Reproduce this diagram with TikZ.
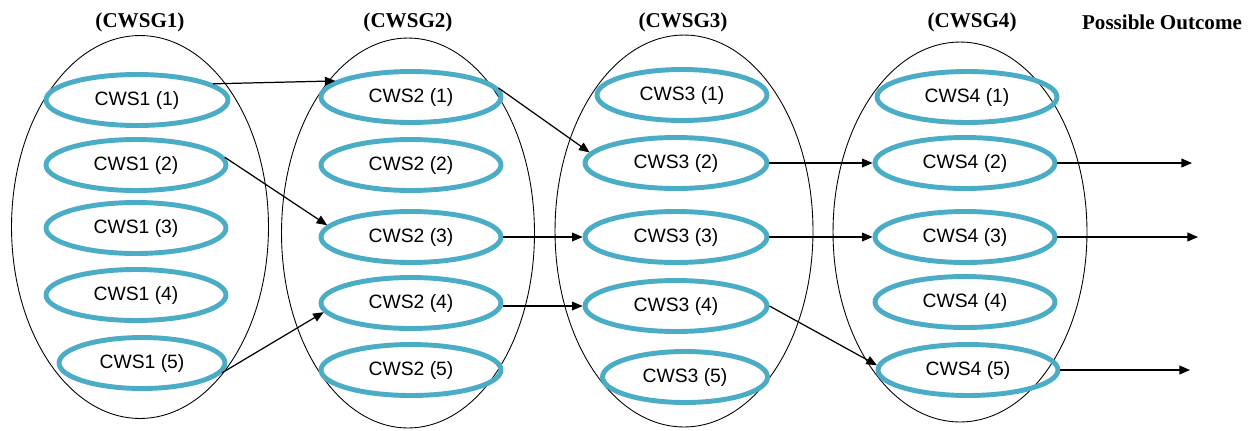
\documentclass[tikz,border=0pt]{standalone}
\usepackage{fontspec}
\setmainfont{Liberation Serif}
\newfontfamily\cwsfont{Liberation Sans}
\usetikzlibrary{shapes.geometric,arrows.meta}
\definecolor{cwsblue}{RGB}{75,172,198}
\tikzset{
	grp/.style={draw=black,line width=0.5pt,ellipse,inner sep=0pt},
	cws/.style={draw=cwsblue,line width=2.8pt,ellipse,inner sep=0pt,minimum height=1.02cm,minimum width=3.6cm,font=\cwsfont\fontsize{11}{13}\selectfont},
	ttl/.style={font=\bfseries\fontsize{12}{14}\selectfont},
	arr/.style={-{Triangle[length=6pt,width=5pt]},line width=0.7pt}
}
\begin{document}
\begin{tikzpicture}[x=0.02cm,y=-0.02cm]
			\useasboundingbox (0,0) rectangle (1253,430);
			\node[grp,minimum width=5.14cm,minimum height=7.66cm] (g1) at (140,227) {};
			\node[grp,minimum width=5.06cm,minimum height=7.8cm] (g2) at (408,233) {};
			\node[grp,minimum width=5.16cm,minimum height=7.84cm] (g3) at (684,231) {};
			\node[grp,minimum width=5.08cm,minimum height=7.6cm] (g4) at (960,232) {};
			\node[ttl] (t1) at (140,22) {(CWSG1)};
			\node[ttl] (t2) at (408,22) {(CWSG2)};
			\node[ttl] (t3) at (683,22) {(CWSG3)};
			\node[ttl] (t4) at (972,22) {(CWSG4)};
			\node[ttl] (t5) at (1162,22) {Possible Outcome};
			\node[cws,minimum width=3.64cm] (c11) at (137,100) {CWS1 (1)};
			\node[cws] (c12) at (136,165) {CWS1 (2)};
			\node[cws] (c13) at (136,228) {CWS1 (3)};
			\node[cws] (c14) at (136,295) {CWS1 (4)};
			\node[cws,minimum width=3.32cm] (c15) at (142,363) {CWS1 (5)};
			\node[cws] (c21) at (411,97) {CWS2 (1)};
			\node[cws] (c22) at (411,165) {CWS2 (2)};
			\node[cws] (c23) at (411,237) {CWS2 (3)};
			\node[cws] (c24) at (411,303) {CWS2 (4)};
			\node[cws] (c25) at (411,370) {CWS2 (5)};
			\node[cws,minimum width=3.4cm] (c31) at (682,95) {CWS3 (1)};
			\node[cws,minimum width=3.64cm] (c32) at (676,163) {CWS3 (2)};
			\node[cws,minimum width=3.64cm] (c33) at (676,237) {CWS3 (3)};
			\node[cws,minimum width=3.64cm] (c34) at (676,306) {CWS3 (4)};
			\node[cws,minimum width=3.3cm] (c35) at (685,377) {CWS3 (5)};
			\node[cws] (c41) at (967,97) {CWS4 (1)};
			\node[cws] (c42) at (965,163) {CWS4 (2)};
			\node[cws] (c43) at (965,237) {CWS4 (3)};
			\node[cws] (c44) at (965,302) {CWS4 (4)};
			\node[cws] (c45) at (968,370) {CWS4 (5)};
			\coordinate (o2) at (1192,163);
			\coordinate (o3) at (1198,237);
			\coordinate (o5) at (1190,370);
			\draw[arr] (c11.12) -- (c21.168);
			\draw[arr] (c12.5) -- (c23.172);
			\draw[arr] (c15.-7) -- (c24.186);
			\draw[arr] (c21.6) -- (c32.173);
			\draw[arr] (c23.east) -- (c33.west);
			\draw[arr] (c24.east |- c34) -- (c34.west);
			\draw[arr] (c32.east) -- (c42.west);
			\draw[arr] (c33.east) -- (c43.west);
			\draw[arr] (c34.east) -- (c45.177);
			\draw[arr] (c42.east) -- (o2);
			\draw[arr] (c43.east) -- (o3);
			\draw[arr] (c45.east) -- (o5);
\end{tikzpicture}
\end{document}
